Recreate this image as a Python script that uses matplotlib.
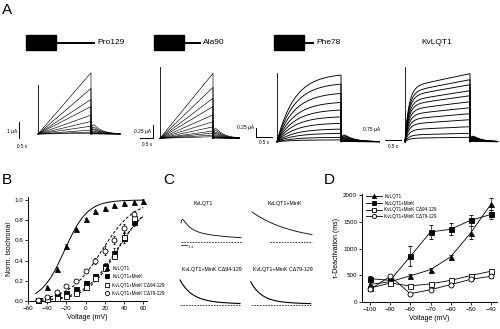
import numpy as np
import matplotlib.pyplot as plt
from matplotlib.patches import Rectangle
from matplotlib.lines import Line2D

plt.rcParams['font.family'] = ['Liberation Sans', 'DejaVu Sans']
plt.rcParams['axes.linewidth'] = 0.7
plt.rcParams['xtick.major.width'] = 0.6
plt.rcParams['ytick.major.width'] = 0.6
plt.rcParams['xtick.major.size'] = 2
plt.rcParams['ytick.major.size'] = 2
plt.rcParams['xtick.labelsize'] = 4.5
plt.rcParams['ytick.labelsize'] = 4.5
plt.rcParams['xtick.major.pad'] = 1.5
plt.rcParams['ytick.major.pad'] = 1.5

W, H = 500, 329

## A: current families (uA), end-of-step amplitude, largest first
step_s = 2.0
pro129_amp = [3.9, 2.9, 2.2, 1.75, 1.2, 0.8, 0.5, 0.25, 0.12, 0.05]
ala90_amp = [1.25, 0.98, 0.77, 0.61, 0.45, 0.32, 0.22, 0.14, 0.1, 0.06, 0.03]
phe78_amp = [1.85, 1.6, 1.34, 1.09, 0.88, 0.69, 0.51, 0.35, 0.23, 0.12, 0.05]
kvlqt1_amp = [3.4, 3.1, 2.85, 2.55, 2.3, 2.0, 1.7, 1.4, 1.1, 0.75, 0.42, 0.22]
construct_names = ['Pro129', 'Ala90', 'Phe78']
construct_end = [129, 90, 78]
fast_weight = [0.0, 0.0, 1.0, 0.8]
tau_act = [1.0, 1.0, 0.55, 0.12]
tail_frac = [0.15, 0.15, 0.1, 0.08]
tail_tau = [0.3, 0.3, 0.3, 0.25]
tail_len = [1.1, 1.0, 1.2, 0.85]
spike_ua = [3.1, 1.37, 1.92, 3.75]
scale_ua = [1.0, 0.25, 0.25, 0.75]
scale_lbl = ['1 µA', '0.25 µA', '0.25 µA', '0.75 µA']

## B: normalized isochronal activation
volt_kv = [-50, -40, -30, -20, -10, 0, 10, 20, 30, 40, 50, 60]
act_kv = [0.01, 0.14, 0.32, 0.545, 0.71, 0.815, 0.89, 0.925, 0.955, 0.97, 0.98, 0.99]
err_kv = [0, 0.01, 0.015, 0.015, 0.01, 0.01, 0.01, 0.01, 0.01, 0.01, 0.01, 0.02]
volt_b = [-50, -40, -30, -20, -10, 0, 10, 20, 30, 40, 50]
act_mink = [0.01, 0.03, 0.06, 0.08, 0.12, 0.18, 0.25, 0.35, 0.48, 0.62, 0.78]
err_mink = [0, 0.01, 0.01, 0.01, 0.015, 0.02, 0.02, 0.03, 0.04, 0.05, 0.04]
act_d94 = [0.005, 0.02, 0.03, 0.05, 0.08, 0.14, 0.23, 0.33, 0.45, 0.63, 0.82]
err_d94 = [0, 0.01, 0.01, 0.01, 0.01, 0.02, 0.02, 0.03, 0.03, 0.04, 0.04]
act_d79 = [0.01, 0.04, 0.09, 0.15, 0.2, 0.3, 0.4, 0.5, 0.6, 0.72, 0.86]
err_d79 = [0, 0.01, 0.01, 0.01, 0.02, 0.02, 0.03, 0.04, 0.04, 0.04, 0.03]
# Boltzmann fits: V1/2 (mV), slope (mV)
half_act = [-22, 32, 33, 17]
slope_k = [12, 17, 16, 17]
labels = ['KvLQT1', 'KvLQT1+MinK', 'KvLQT1+MinK CΔ94-129', 'KvLQT1+MinK CΔ79-129']

## C: tail currents (normalized), biexponential decays, time in s
c_amp = [1.07, 1.19, 1.0, 0.93]
c_fast_w = [0.6, 0.0, 0.85, 0.85]
c_tau_fast = [1.3, 1.0, 2.0, 1.8]
c_tau_slow = [10.0, 7.0, 10.0, 10.0]
c_hook = [0.3, 0.0, 0.0, 0.0]

## D: deactivation time constants (ms)
volt_d = [-100, -90, -80, -70, -60, -50, -40]
tau_kv = [330, 380, 490, 605, 845, 1295, 1830]
tau_mink = [437, 405, 855, 1310, 1360, 1530, 1637]
tau_d94 = [262, 355, 300, 340, 405, 495, 575]
tau_d79 = [237, 480, 155, 230, 325, 425, 480]
etau_kv = [40, 30, 40, 40, 40, 120, 110]
etau_mink = [40, 40, 190, 130, 110, 100, 90]
etau_d94 = [20, 20, 20, 20, 20, 25, 30]
etau_d79 = [20, 20, 20, 20, 20, 25, 30]

fig = plt.figure(figsize=(W / 100, H / 100), dpi=100)


def add_px_axes(left, top, right, bottom):
    return fig.add_axes([left / W, 1 - bottom / H, (right - left) / W, (bottom - top) / H])


def add_trace_axes(x0, y0, pps, ppu, xlim, ylim):
    ax = add_px_axes(x0 + xlim[0] * pps, y0 - ylim[1] * ppu, x0 + xlim[1] * pps, y0 - ylim[0] * ppu)
    ax.set_xlim(xlim)
    ax.set_ylim(ylim)
    ax.axis('off')
    return ax


def ftext(px, py, s, **kw):
    fig.text(px / W, 1 - py / H, s, **kw)


# construct schematics
ov = fig.add_axes([0, 0, 1, 1])
ov.set_xlim(0, W)
ov.set_ylim(H, 0)
ov.axis('off')
for left, end, name in zip([26, 154, 274], construct_end, construct_names):
    ov.add_patch(Rectangle((left, 35), 30, 15, color='black'))
    tail = 0.57 * (end - 60.5)
    ov.plot([left + 30, left + 30 + tail], [42.5, 42.5], color='black', lw=1.4, solid_capstyle='butt')
    ov.text(left + 32 + tail, 43, name, va='center', fontsize=6)
ov.text(437, 42, 'KvLQT1', ha='center', va='center', fontsize=6)

# A: current traces
layout_a = [(38, 134, 26.5, 15.7), (160, 138.3, 26.5, 52), (277, 141.7, 32, 36), (405, 141.7, 32.5, 20)]
amp_sets = [pro129_amp, ala90_amp, phe78_amp, kvlqt1_amp]
trace_lw = [0.45, 0.45, 0.65, 0.65]
for i, amps in enumerate(amp_sets):
    x0, y0, pps, ppa = layout_a[i]
    ax = add_trace_axes(x0, y0, pps, ppa, (-0.1, step_s + tail_len[i] + 0.05), (-8 / ppa, 78 / ppa))
    t = np.linspace(0, step_s, 200)
    tt = np.linspace(0, tail_len[i], 120)
    w, tau = fast_weight[i], tau_act[i]
    shape = w * (1 - np.exp(-t / tau)) / (1 - np.exp(-step_s / tau)) + (1 - w) * t / step_s
    hump = np.exp(-tt / tail_tau[i]) - np.exp(-tt / 0.04)
    hump = hump / hump.max()
    for a in amps:
        y = np.concatenate([a * shape, a * tail_frac[i] * hump])
        x = np.concatenate([t, step_s + tt])
        ax.plot(x, y, color='black', lw=trace_lw[i])
    ax.plot([0, 0], [0, spike_ua[i]], color='black', lw=0.6)

    def d(px, py):
        return (px - x0) / pps, (y0 - py) / ppa

    if i == 0:
        bx, by = d(19, 138)
        ax.plot([bx, bx], [by, by + scale_ua[i]], color='black', lw=0.7, clip_on=False)
        ax.text(*d(17.5, 132), scale_lbl[i], ha='right', va='center', fontsize=3.5)
        ax.text(*d(22, 147), '0.5 s', ha='center', va='center', fontsize=3.3)
    elif i == 1:
        bx, by = d(153, 138)
        ax.plot([bx, bx], [by, by + scale_ua[i]], color='black', lw=0.7, clip_on=False)
        ax.plot([bx - 0.5, bx], [by, by], color='black', lw=0.7, clip_on=False)
        ax.text(*d(151, 131), scale_lbl[i], ha='right', va='center', fontsize=3.5)
        ax.text(*d(147, 144), '0.5 s', ha='center', va='center', fontsize=3.3)
    elif i == 2:
        bx, by = d(256, 137)
        ax.plot([bx, bx], [by, by + scale_ua[i]], color='black', lw=0.7, clip_on=False)
        ax.plot([bx, bx + 0.5], [by, by], color='black', lw=0.7, clip_on=False)
        ax.text(*d(254, 128), scale_lbl[i], ha='right', va='center', fontsize=3.5)
        ax.text(*d(264, 143), '0.5 s', ha='center', va='center', fontsize=3.3)
    else:
        bx, by = d(385, 140)
        ax.plot([bx, bx + 0.5], [by, by], color='black', lw=0.7, clip_on=False)
        ax.text(*d(372, 129), scale_lbl[i], ha='center', va='center', fontsize=3.5)
        ax.text(*d(393, 146), '0.5 s', ha='center', va='center', fontsize=3.3)

# B: activation curves
axb = add_px_axes(28, 197, 147, 301)
series_b = [(volt_kv, act_kv, err_kv, '^', 'black'),
            (volt_b, act_mink, err_mink, 's', 'black'),
            (volt_b, act_d94, err_d94, 's', 'white'),
            (volt_b, act_d79, err_d79, 'o', 'white')]
for v, a, e, mk, fc in series_b:
    axb.errorbar(v, a, yerr=e, fmt=mk, mfc=fc, mec='black', ecolor='black', ms=3.6, mew=0.6,
                 elinewidth=0.5, capsize=1, capthick=0.5, clip_on=False, zorder=3)
vv = np.linspace(-52, 60, 200)
for vh, k, ls in zip(half_act, slope_k, ['-', '--', '--', '--']):
    axb.plot(vv, 1 / (1 + np.exp((vh - vv) / k)), color='black', lw=0.7, ls=ls, dashes=(3, 2) if ls == '--' else (None, None))
axb.set_xlim(-60, 64)
axb.set_ylim(0, 1.03)
axb.set_xticks([-60, -40, -20, 0, 20, 40, 60])
axb.set_yticks([0, 0.2, 0.4, 0.6, 0.8, 1.0])
axb.set_yticklabels(['0.0', '0.2', '0.4', '0.6', '0.8', '1.0'])
axb.spines[['top', 'right']].set_visible(False)
axb.set_xlabel('Voltage (mV)', fontsize=5, labelpad=2)
axb.set_ylabel('Norm. Isochronal', fontsize=5, labelpad=1)
handles_b = [Line2D([], [], ls='none', marker=mk, mfc=fc, mec='black', ms=3, mew=0.6) for _, _, _, mk, fc in series_b]
axb.legend(handles_b, labels, loc='upper left', bbox_to_anchor=(0.647, 0.34), frameon=False, fontsize=3.3,
           handlelength=0.8, handletextpad=0.8, labelspacing=0.75, borderpad=0, borderaxespad=0)

# C: tail currents
layout_c = [(181, 241.7), (252, 241.7), (180, 305), (250.7, 305)]
base_start = [0.0, 3.0, 0.0, 0.0]
for i, (x0, y0) in enumerate(layout_c):
    ax = add_trace_axes(x0, y0, 6, 25, (-0.3, 10.3), (-0.25, 1.3))
    t = np.linspace(0, 10, 300)
    w = c_fast_w[i]
    y = c_amp[i] * (w * np.exp(-t / c_tau_fast[i]) + (1 - w) * np.exp(-t / c_tau_slow[i]))
    y = y - c_amp[i] * c_hook[i] * np.exp(-t / 0.15)
    ax.plot(t, y, color='black', lw=0.8 if i >= 2 else 0.6)
    ax.plot([base_start[i], 10], [0, 0], color='black', lw=0.5, ls=(0, (2.5, 1.5)))
    if i == 0:
        ax.plot([0, 1], [-0.14, -0.14], color='black', lw=0.5)
        ax.text(1.1, -0.2, '1 s', fontsize=2.8, va='center')
for (px, py), title in zip([(203, 204), (285, 204), (212, 270), (283, 270)], labels):
    ftext(px, py, title, ha='center', va='center', fontsize=3.8)

# D: deactivation time constants
axd = add_px_axes(362, 194, 497, 302)
series_d = [(tau_kv, etau_kv, '^', 'black'),
            (tau_mink, etau_mink, 's', 'black'),
            (tau_d94, etau_d94, 's', 'white'),
            (tau_d79, etau_d79, 'o', 'white')]
for vals, e, mk, fc in series_d:
    axd.errorbar(volt_d, vals, yerr=e, marker=mk, mfc=fc, mec='black', color='black', ms=3.6, mew=0.6,
                 lw=0.6, elinewidth=0.5, capsize=1.2, capthick=0.5, zorder=3)
axd.set_xlim(-104, -37)
axd.set_ylim(0, 2020)
axd.set_xticks(volt_d)
axd.set_yticks([0, 500, 1000, 1500, 2000])
axd.spines[['top', 'right']].set_visible(False)
axd.set_xlabel('Voltage (mV)', fontsize=5, labelpad=2)
axd.set_ylabel('τ-Deactivation (ms)', fontsize=5, labelpad=2)
handles_d = [Line2D([], [], color='black', lw=0.6, marker=mk, mfc=fc, mec='black', ms=3, mew=0.6) for _, _, mk, fc in series_d]
axd.legend(handles_d, labels, loc='upper left', bbox_to_anchor=(0.03, 1.0), frameon=False, fontsize=3.3,
           handlelength=3.5, handletextpad=0.5, labelspacing=0.35, borderpad=0, borderaxespad=0)

# panel letters
for (px, py), letter in zip([(2, 3), (2, 173), (163, 173), (324, 173)], 'ABCD'):
    ftext(px, py, letter, fontsize=11, va='top', ha='left')

fig.savefig('out.png', dpi=100)
